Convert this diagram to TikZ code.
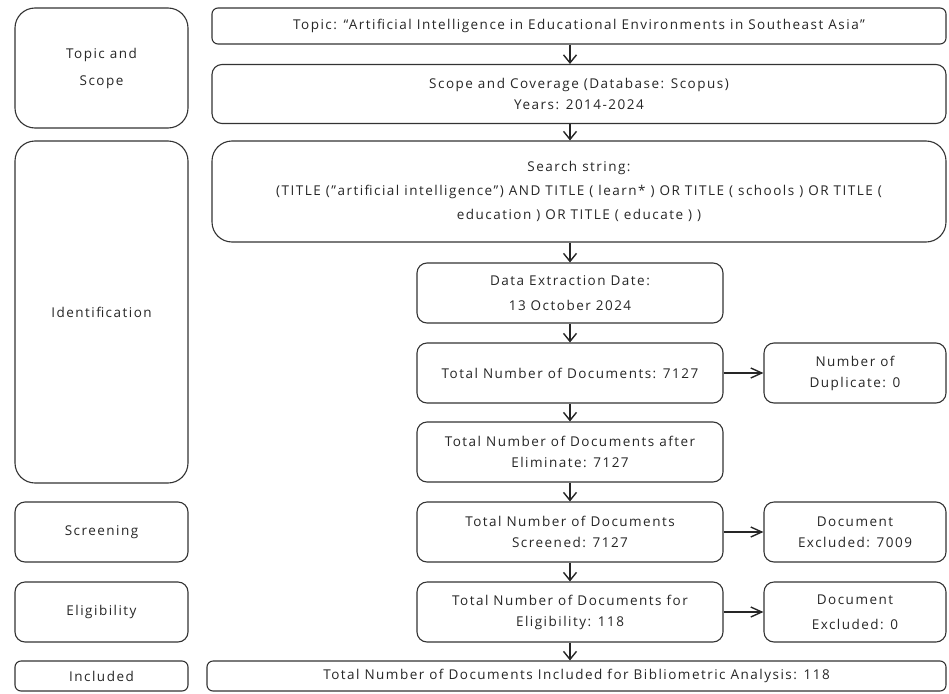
\documentclass[tikz,border=0pt]{standalone}
\usepackage{fontspec}
\setmainfont{Open Sans}[LetterSpace=11]
\usetikzlibrary{arrows.meta}

\begin{document}
\begin{tikzpicture}[x=1pt,y=-1pt,
    box/.style={draw=black!80,line width=1.1pt,align=center,inner sep=0pt,rounded corners=10pt,
      text=black!85,font=\fontsize{13.5}{21}\selectfont},
    flow/.style={draw=black!85,line width=1.4pt,-{Straight Barb[length=8pt,width=13pt]}},
    side/.style={draw=black!85,line width=1.4pt,-{Straight Barb[length=11pt,width=10pt]}}]
    \useasboundingbox (0,0) rectangle (949,693);
    % phases
    \node[box,rounded corners=20pt,minimum width=173,minimum height=120] (ptopic) at (101.5,68) {Topic and\\[6pt]Scope};
    \node[box,rounded corners=20pt,minimum width=173,minimum height=342] (pident) at (101.5,312) {Identification};
    \node[box,minimum width=173,minimum height=60] (pscreen) at (101.5,532) {Screening};
    \node[box,minimum width=173,minimum height=60] (pelig) at (101.5,612) {Eligibility};
    \node[box,rounded corners=6pt,minimum width=173,minimum height=30] (pincl) at (101.5,676) {Included};
    % main flow
    \node[box,rounded corners=6pt,minimum width=734,minimum height=36] (topic) at (579,26) {Topic: “Artificial Intelligence in Educational Environments in Southeast Asia”};
    \node[box,minimum width=734,minimum height=59] (scope) at (579,94) {Scope and Coverage (Database: Scopus)\\Years: 2014-2024};
    \node[box,rounded corners=20pt,minimum width=734,minimum height=101] (search) at (579,191.5) {Search string:\\[3pt](TITLE (\symbol{34}artificial intelligence\symbol{34}) AND TITLE ( learn* ) OR TITLE ( schools ) OR TITLE (\\[3pt]education ) OR TITLE ( educate ) )};
    \node[box,minimum width=306,minimum height=60] (date) at (570,293) {Data Extraction Date:\\[4pt]13 October 2024};
    \node[box,minimum width=306,minimum height=60] (total) at (570,373) {Total Number of Documents: 7127};
    \node[box,minimum width=306,minimum height=60] (elim) at (570,452) {Total Number of Documents after\\Eliminate: 7127};
    \node[box,minimum width=306,minimum height=60] (screened) at (570,532) {Total Number of Documents\\Screened: 7127};
    \node[box,minimum width=306,minimum height=60] (eligible) at (570,612) {Total Number of Documents for\\Eligibility: 118};
    \node[box,rounded corners=6pt,minimum width=739,minimum height=30] (included) at (576.5,676) {Total Number of Documents Included for Bibliometric Analysis: 118};
    % removed
    \node[box,minimum width=182,minimum height=60] (dup) at (855,373) {Number of\\Duplicate: 0};
    \node[box,minimum width=182,minimum height=60] (excla) at (855,532) {Document\\Excluded: 7009};
    \node[box,minimum width=182,minimum height=60] (exclb) at (855,612) {Document\\[4pt]Excluded: 0};
    % arrows
    \draw[flow] (topic.south -| date.north) -- (scope.north -| date.north);
    \draw[flow] (scope.south -| date.north) -- (search.north -| date.north);
    \draw[flow] (search.south -| date.north) -- (date.north);
    \draw[flow] (date) -- (total);
    \draw[flow] (total) -- (elim);
    \draw[flow] (elim) -- (screened);
    \draw[flow] (screened) -- (eligible);
    \draw[flow] (eligible.south) -- (included.north -| eligible.south);
    \draw[side] (total) -- (dup);
    \draw[side] (screened) -- (excla);
    \draw[side] (eligible) -- (exclb);
\end{tikzpicture}
\end{document}
